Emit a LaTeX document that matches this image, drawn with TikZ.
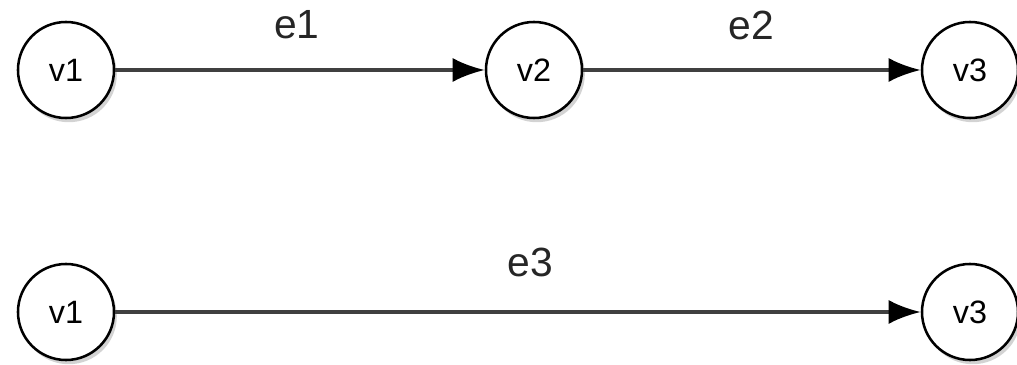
\documentclass[tikz,border=0pt]{standalone}
\usepackage{fontspec}
\setmainfont{Liberation Sans}
\usetikzlibrary{arrows.meta,shadows}
\tikzstyle{vertex} = [draw, circle, line width=1.8pt, fill=white,
    minimum size=2.4cm, inner sep=0pt, font=\fontsize{23}{23}\selectfont,
    drop shadow={opacity=0.35, shadow xshift=2pt, shadow yshift=-3pt}]
\tikzstyle{edge} = [line width=2.6pt, draw=black!75,
    -{Latex[length=0.8cm,width=0.6cm,color=black]}]
\tikzstyle{elabel} = [font=\fontsize{29}{29}\selectfont, text=black!85]

\begin{document}
\begin{tikzpicture}[x=0.025cm,y=-0.025cm]
\useasboundingbox (0,0) rectangle (1017,365);

\node[vertex] (v1) at (66,70) {v1};
\node[vertex] (v2) at (534,70) {v2};
\node[vertex] (v3) at (970,70) {v3};

\node[vertex] (w1) at (66,312) {v1};
\node[vertex] (w3) at (970,312) {v3};

\node[elabel] (e1) at (297,25) {e1};
\node[elabel] (e2) at (751,25) {e2};
\node[elabel] (e3) at (530,262) {e3};

\draw[edge] (v1) -- (v2);
\draw[edge] (v2) -- (v3);
\draw[edge] (w1) -- (w3);
\end{tikzpicture}
\end{document}
